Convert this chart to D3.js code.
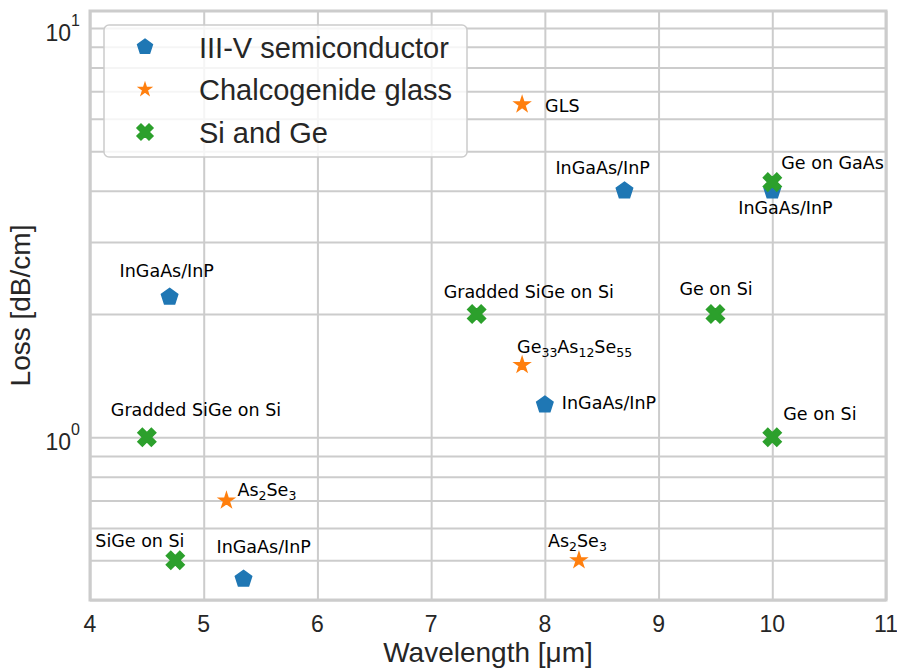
<!DOCTYPE html>
<html>
<head>
<meta charset="utf-8">
<script src="https://cdn.jsdelivr.net/npm/d3@7"></script>
<style>
  body { margin: 0; background: #fff; }
  svg { display: block; }
</style>
</head>
<body>
<div id="chart"></div>
<script>
// ---- data ----
var categories = ["III-V semiconductor", "Chalcogenide glass", "Si and Ge"];

var iiivWavelength = [4.7, 5.35, 8.0, 8.7, 10];
var iiivLoss       = [2.2, 0.45, 1.2, 4.0, 4.0];
var iiivLabels     = ["InGaAs/InP", "InGaAs/InP", "InGaAs/InP", "InGaAs/InP", "InGaAs/InP"];

var chalcWavelength = [7.8, 7.8, 5.2, 8.3];
var chalcLoss       = [6.5, 1.5, 0.7, 0.5];
var chalcLabels     = ["GLS", "Ge_33As_12Se_55", "As_2Se_3", "As_2Se_3"];

var sigeWavelength = [4.5, 4.75, 7.4, 9.5, 10, 10];
var sigeLoss       = [1.0, 0.5, 2.0, 2.0, 1.0, 4.2];
var sigeLabels     = ["Gradded SiGe on Si", "SiGe on Si", "Gradded SiGe on Si", "Ge on Si", "Ge on Si", "Ge on GaAs"];

var xTicks = [4, 5, 6, 7, 8, 9, 10, 11];
var yMajor = [1, 10];
var yMinor = [0.4, 0.5, 0.6, 0.7, 0.8, 0.9, 2, 3, 4, 5, 6, 7, 8, 9];

// annotation offsets (px) from marker to text start / baseline
var iiivOffsets  = [[-50,-20],[-27,-26],[17,4],[-69,-17],[-34,23]];
var chalcOffsets = [[23,8],[-5,-12],[11,-5],[-31,-13]];
var sigeOffsets  = [[-36,-21],[-80,-13],[-33,-16],[-36,-19],[11,-17],[9,-13]];

var colors = ["#1f77b4", "#ff7f0e", "#2ca02c"];

// ---- layout ----
var W = 897, H = 668;
var m = {t:11, r:11, b:68, l:90};
var w = W - m.l - m.r, h = H - m.t - m.b;

var svg = d3.select("#chart").append("svg")
  .attr("width", W).attr("height", H);

var scaleX = d3.scaleLinear().domain([4, 11]).range([m.l, m.l + w]);
var scaleY = d3.scaleLog().domain([0.4, 11]).range([m.t + h, m.t]);

// custom marker shapes
var pentagon = { draw: function(ctx, r) {
  for (var i = 0; i < 5; i++) {
    var a = -Math.PI/2 + i * 2*Math.PI/5;
    if (i == 0) ctx.moveTo(r*Math.cos(a), r*Math.sin(a));
    else ctx.lineTo(r*Math.cos(a), r*Math.sin(a));
  }
  ctx.closePath();
}};
var star = { draw: function(ctx, r) {
  for (var i = 0; i < 10; i++) {
    var a = -Math.PI/2 + i * Math.PI/5;
    var rr = (i % 2 == 0) ? r : r * 0.381966;
    if (i == 0) ctx.moveTo(rr*Math.cos(a), rr*Math.sin(a));
    else ctx.lineTo(rr*Math.cos(a), rr*Math.sin(a));
  }
  ctx.closePath();
}};
var xmark = { draw: function(ctx, s) {
  var pts = [[-1,-3],[1,-3],[1,-1],[3,-1],[3,1],[1,1],[1,3],[-1,3],[-1,1],[-3,1],[-3,-1],[-1,-1]];
  var c = Math.SQRT1_2;
  pts.forEach(function(p, i) {
    var px = p[0]/6*s, py = p[1]/6*s;
    var qx = c*(px - py), qy = c*(px + py);
    if (i == 0) ctx.moveTo(qx, qy); else ctx.lineTo(qx, qy);
  });
  ctx.closePath();
}};

var series = [
  {name: categories[0], xs: iiivWavelength, ys: iiivLoss, labels: iiivLabels, off: iiivOffsets, type: pentagon, size: 8.6, legSize: 7.8},
  {name: categories[1], xs: chalcWavelength, ys: chalcLoss, labels: chalcLabels, off: chalcOffsets, type: star, size: 7.8, legSize: 6.2},
  {name: categories[2], xs: sigeWavelength, ys: sigeLoss, labels: sigeLabels, off: sigeOffsets, type: xmark, size: 19, legSize: 17}
];

// ---- grid ----
var gridColor = "#cccccc";

var gx = svg.append("g")
  .attr("transform", "translate(0," + (m.t + h) + ")")
  .call(d3.axisBottom(scaleX).tickValues(xTicks).tickSize(-h).tickFormat(""));
gx.select(".domain").remove();
gx.selectAll("line").attr("stroke", gridColor).attr("stroke-width", 2);

var gy = svg.append("g")
  .attr("transform", "translate(" + m.l + ",0)")
  .call(d3.axisLeft(scaleY).tickValues(yMinor.concat(yMajor)).tickSize(-w).tickFormat(""));
gy.select(".domain").remove();
gy.selectAll("line").attr("stroke", gridColor).attr("stroke-width", 2);

// frame
svg.append("rect")
  .attr("x", m.l).attr("y", m.t).attr("width", w).attr("height", h)
  .attr("fill", "none").attr("stroke", gridColor).attr("stroke-width", 3);

// ---- tick labels ----
svg.append("g").selectAll("text")
  .data(xTicks).enter().append("text")
  .attr("x", function(d){ return scaleX(d); })
  .attr("y", 632)
  .attr("text-anchor", "middle")
  .attr("font-family", "Liberation Sans, Arial, sans-serif")
  .attr("font-size", "23px")
  .attr("fill", "#262626")
  .text(function(d){ return d; });

var yl = svg.append("g").selectAll("text")
  .data(yMajor).enter().append("text")
  .attr("x", 80)
  .attr("y", function(d){ return scaleY(d) + 13; })
  .attr("text-anchor", "end")
  .attr("font-family", "Liberation Sans, Arial, sans-serif")
  .attr("font-size", "23px")
  .attr("fill", "#262626");
yl.append("tspan").text("10");
yl.append("tspan").attr("font-size", "16px").attr("dy", -15)
  .text(function(d){ return Math.round(Math.log10(d)); });

// axis titles
svg.append("text")
  .attr("x", m.l + w/2).attr("y", 662)
  .attr("text-anchor", "middle")
  .attr("font-family", "Liberation Sans, Arial, sans-serif")
  .attr("font-size", "28px")
  .attr("fill", "#262626")
  .text("Wavelength [\u03bcm]");

svg.append("text")
  .attr("transform", "translate(30," + (m.t + h/2) + ") rotate(-90)")
  .attr("text-anchor", "middle")
  .attr("font-family", "Liberation Sans, Arial, sans-serif")
  .attr("font-size", "28px")
  .attr("fill", "#262626")
  .text("Loss [dB/cm]");

// ---- markers ----
series.forEach(function(s, si) {
  var pts = s.xs.map(function(x, i){ return {x: x, y: s.ys[i]}; });
  svg.append("g").selectAll("path")
    .data(pts).enter().append("path")
    .attr("transform", function(d){ return "translate(" + scaleX(d.x) + "," + scaleY(d.y) + ")"; })
    .attr("d", d3.symbol().type(s.type).size(s.size))
    .attr("fill", colors[si])
    .attr("stroke", colors[si])
    .attr("stroke-width", 1.5);
});

// ---- annotations ----
function addLabel(g, str, x, y) {
  var t = g.append("text")
    .attr("x", x).attr("y", y)
    .attr("font-family", "DejaVu Sans, sans-serif")
    .attr("font-size", "17.5px")
    .attr("fill", "#000");
  var parts = str.split(/(_\d+)/);
  parts.forEach(function(p) {
    if (p === "") return;
    if (p[0] == "_") {
      t.append("tspan").attr("font-size", "12.5px").attr("baseline-shift", "-4px").text(p.slice(1));
    } else {
      t.append("tspan").text(p);
    }
  });
}

var ann = svg.append("g");
series.forEach(function(s) {
  s.xs.forEach(function(x, i) {
    addLabel(ann, s.labels[i], scaleX(x) + s.off[i][0], scaleY(s.ys[i]) + s.off[i][1]);
  });
});

// ---- legend ----
var leg = svg.append("g");
leg.append("rect")
  .attr("x", 104).attr("y", 25).attr("width", 363).attr("height", 132)
  .attr("rx", 5).attr("ry", 5)
  .attr("fill", "#fff").attr("fill-opacity", 0.8)
  .attr("stroke", gridColor).attr("stroke-width", 1.5);

series.forEach(function(s, si) {
  var cy = 47 + si * 42.5;
  leg.append("path")
    .attr("transform", "translate(145," + cy + ")")
    .attr("d", d3.symbol().type(s.type).size(s.legSize))
    .attr("fill", colors[si])
    .attr("stroke", colors[si])
    .attr("stroke-width", 1.5);
  leg.append("text")
    .attr("x", 199).attr("y", cy + 10.5)
    .attr("font-family", "Liberation Sans, Arial, sans-serif")
    .attr("font-size", "29px")
    .attr("fill", "#262626")
    .text(s.name);
});
</script>
</body>
</html>
